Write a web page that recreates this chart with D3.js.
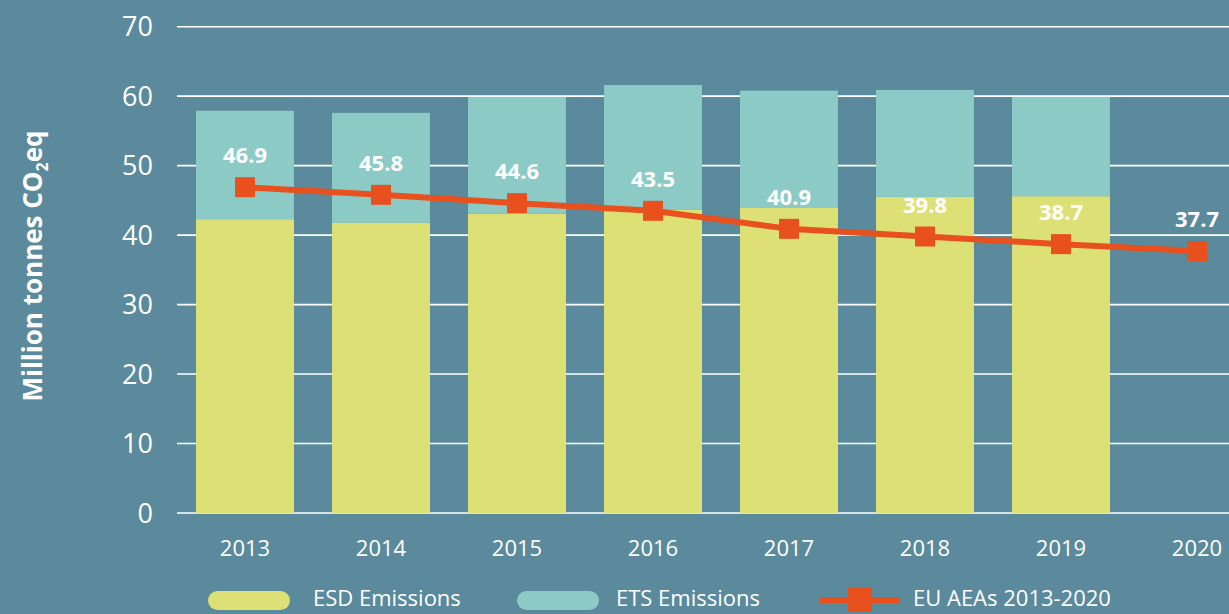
<!DOCTYPE html>
<html>
<head>
<meta charset="utf-8">
<script src="https://cdn.jsdelivr.net/npm/d3@7"></script>
<style>
  body { margin: 0; background: #5a8a9b; }
  svg { display: block; font-family: "Open Sans", sans-serif; }
</style>
</head>
<body>
<div id="chart"></div>
<script>
const years = ['2013', '2014', '2015', '2016', '2017', '2018', '2019', '2020'];
const esd = [42.3, 41.8, 43.1, 43.7, 44.0, 45.5, 45.6, null];
const ets = [15.6, 15.8, 16.8, 17.9, 16.8, 15.4, 14.3, null];
const aea = [46.9, 45.8, 44.6, 43.5, 40.9, 39.8, 38.7, 37.7];
const yTicks = [0, 10, 20, 30, 40, 50, 60, 70];

const width = 1229, height = 614;
const colors = { esd: '#dde074', ets: '#8ccbc5', aea: '#e8501e', bg: '#5a8a9b' };

const svg = d3.select('#chart').append('svg')
    .attr('width', width).attr('height', height);

svg.append('rect').attr('width', width).attr('height', height).attr('fill', colors.bg);

const x = d3.scaleBand().domain(years).range([177, 1265]).paddingInner(0.28).paddingOuter(0.14);
const y = d3.scaleLinear().domain([0, 70]).range([513, 26.7]);

// gridlines
svg.append('g').selectAll('line').data(yTicks).join('line')
    .attr('x1', 177).attr('x2', width)
    .attr('y1', d => y(d)).attr('y2', d => y(d))
    .attr('stroke', '#fff').attr('stroke-width', 1.6);

// y tick labels
svg.append('g').selectAll('text').data(yTicks).join('text')
    .attr('x', 153).attr('y', d => y(d)).attr('dy', '0.36em')
    .attr('text-anchor', 'end').attr('fill', '#fff')
    .attr('font-size', 27).text(d => d);

// x tick labels
svg.append('g').selectAll('text').data(years).join('text')
    .attr('x', d => x(d) + x.bandwidth() / 2).attr('y', 556)
    .attr('text-anchor', 'middle').attr('fill', '#fff')
    .attr('font-size', 22).text(d => d);

// stacked bars
const rows = years.map((yr, i) => ({ year: yr, esd: esd[i], ets: ets[i] })).filter(d => d.esd != null);
const stack = d3.stack().keys(['esd', 'ets'])(rows);
svg.append('g').selectAll('g').data(stack).join('g')
    .attr('fill', d => colors[d.key])
    .selectAll('rect').data(d => d).join('rect')
    .attr('x', d => x(d.data.year))
    .attr('width', x.bandwidth())
    .attr('y', d => y(d[1]))
    .attr('height', d => y(d[0]) - y(d[1]));

// AEA line
const pts = years.map((yr, i) => [x(yr) + x.bandwidth() / 2, y(aea[i])]);
svg.append('path').attr('d', d3.line()(pts))
    .attr('fill', 'none').attr('stroke', colors.aea).attr('stroke-width', 6);
svg.append('g').selectAll('rect').data(pts).join('rect')
    .attr('x', d => d[0] - 10).attr('y', d => d[1] - 10)
    .attr('width', 20).attr('height', 20).attr('fill', colors.aea);
svg.append('g').selectAll('text').data(pts).join('text')
    .attr('x', d => d[0]).attr('y', d => d[1] - 24)
    .attr('text-anchor', 'middle').attr('fill', '#fff')
    .attr('font-size', 22).attr('font-weight', 'bold')
    .text((d, i) => aea[i].toFixed(1));

// y axis title
const title = svg.append('text')
    .attr('transform', 'translate(42,266) rotate(-90)')
    .attr('text-anchor', 'middle').attr('fill', '#fff')
    .attr('font-size', 26).attr('font-weight', 'bold');
title.append('tspan').text('Million tonnes CO');
title.append('tspan').attr('font-size', 16).attr('dy', 6).text('2');
title.append('tspan').attr('dy', -6).text('eq');

// legend
const legend = svg.append('g');
const legendItems = [
    { label: 'ESD Emissions', type: 'pill', color: colors.esd, x: 208, tx: 313 },
    { label: 'ETS Emissions', type: 'pill', color: colors.ets, x: 517, tx: 616 },
    { label: 'EU AEAs 2013-2020', type: 'line', color: colors.aea, x: 820, tx: 913 }
];
legendItems.forEach(it => {
    if (it.type === 'pill') {
        legend.append('rect').attr('x', it.x).attr('y', 591).attr('width', 82).attr('height', 19)
            .attr('rx', 9.5).attr('fill', it.color);
    } else {
        legend.append('line').attr('x1', it.x).attr('x2', it.x + 80).attr('y1', 600).attr('y2', 600)
            .attr('stroke', it.color).attr('stroke-width', 6);
        legend.append('rect').attr('x', it.x + 28).attr('y', 588).attr('width', 24).attr('height', 24)
            .attr('fill', it.color);
    }
    legend.append('text').attr('x', it.tx).attr('y', 606).attr('fill', '#fff')
        .attr('font-size', 22).text(it.label);
});
</script>
</body>
</html>
